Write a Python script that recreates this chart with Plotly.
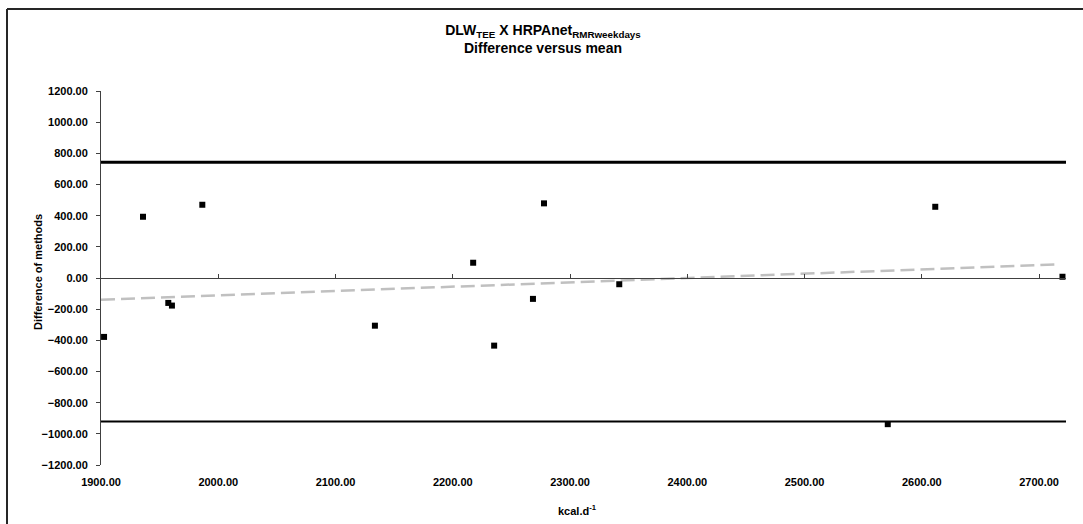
import plotly.graph_objects as go

# ---- data ----
mean_kcal = [1902.6, 1935.8, 1957.4, 1960.5, 1986.4, 2133.6, 2217.4, 2235.3,
             2268.4, 2277.8, 2342.0, 2571.0, 2611.5, 2720.0]
diff_methods = [-378, 393, -160, -177, 470, -306, 98, -434,
                -134, 479, -40, -938, 457, 8]

trend_x = [1900, 2718]
trend_y = [-139, 88]

loa_upper = 742
loa_lower = -921

x_min, x_max = 1900, 2723
y_min, y_max = -1200, 1200
x_ticks = [1900, 2000, 2100, 2200, 2300, 2400, 2500, 2600, 2700]
y_ticks = [-1200, -1000, -800, -600, -400, -200, 0, 200, 400, 600, 800, 1000, 1200]

title_line1 = "DLW<sub>TEE</sub> X HRPAnet<sub>RMRweekdays</sub>"
title_line2 = "Difference versus mean"
y_title = "Difference of methods"
x_title = "kcal.d<sup>-1</sup>"

FONT = "Liberation Sans, Arial, sans-serif"
AXC = "#404040"

fig = go.Figure()

fig.add_trace(go.Scatter(x=[x_min, x_max], y=[loa_upper, loa_upper], mode="lines",
                         line=dict(color="black", width=3), hoverinfo="skip", showlegend=False))
fig.add_trace(go.Scatter(x=[x_min, x_max], y=[loa_lower, loa_lower], mode="lines",
                         line=dict(color="black", width=2), hoverinfo="skip", showlegend=False))
fig.add_trace(go.Scatter(x=trend_x, y=trend_y, mode="lines",
                         line=dict(color="#C0C0C0", width=2.5, dash="14px,6px"),
                         hoverinfo="skip", showlegend=False))
fig.add_trace(go.Scatter(x=mean_kcal, y=diff_methods, mode="markers",
                         marker=dict(symbol="square", size=6, color="black"),
                         showlegend=False, cliponaxis=False))

# zero-crossing axis line with upward ticks
fig.add_trace(go.Scatter(x=[x_min], y=[0], xaxis="x2", mode="markers",
                         marker=dict(size=0, opacity=0), hoverinfo="skip", showlegend=False))

tick_font = dict(family=FONT, size=11, color="black", weight="bold")
lab_font = dict(family=FONT, size=11, color="black", weight="bold")
title_font = dict(family=FONT, size=14, color="black", weight="bold")

fig.update_layout(
    width=1083, height=524,
    margin=dict(l=101, r=17, t=91, b=59),
    paper_bgcolor="white", plot_bgcolor="white",
    title=dict(
        text=title_line1,
        x=543 / 1083, xref="container", xanchor="center",
        y=1 - 30 / 524, yref="container", yanchor="middle",
        font=title_font,
    ),
    xaxis=dict(
        range=[x_min, x_max], tickvals=x_ticks, tickformat=".2f",
        showline=False, ticks="", showgrid=False, zeroline=False,
        tickfont=tick_font, ticklabelstandoff=9,
    ),
    xaxis2=dict(
        range=[x_min, x_max], overlaying="x", anchor="free", position=0.5,
        side="bottom", tickvals=x_ticks, showticklabels=False,
        showline=True, linecolor=AXC, linewidth=1,
        ticks="inside", ticklen=4, tickcolor=AXC, tickwidth=1,
        showgrid=False, zeroline=False,
    ),
    yaxis=dict(
        range=[y_min, y_max], tickvals=y_ticks, tickformat=".2f",
        showline=True, linecolor=AXC, linewidth=1,
        ticks="outside", ticklen=4, tickcolor=AXC, tickwidth=1,
        showgrid=False, zeroline=False,
        tickfont=tick_font, ticklabelstandoff=6,
    ),
    annotations=[
        dict(text=title_line2,
             x=(543 - 101) / 965, y=(465 - 47.5) / 374, xref="paper", yref="paper",
             xanchor="center", yanchor="middle", showarrow=False, font=title_font),
        dict(text=y_title, textangle=-90,
             x=(38 - 101) / 965, y=(465 - 272) / 374, xref="paper", yref="paper",
             xanchor="center", yanchor="middle", showarrow=False, font=lab_font),
        dict(text=x_title,
             x=(577 - 101) / 965, y=(465 - 510) / 374, xref="paper", yref="paper",
             xanchor="center", yanchor="middle", showarrow=False, font=lab_font),
    ],
    shapes=[
        dict(type="line", xref="paper", yref="paper",
             x0=(7 - 101) / 965, x1=(1083 - 101) / 965 + 0.01,
             y0=(465 - 9) / 374, y1=(465 - 9) / 374,
             line=dict(color="#262626", width=2)),
        dict(type="line", xref="paper", yref="paper",
             x0=(7 - 101) / 965, x1=(7 - 101) / 965,
             y0=(465 - 9) / 374, y1=(465 - 530) / 374,
             line=dict(color="#262626", width=2)),
    ],
)

fig.write_html("out.html")
